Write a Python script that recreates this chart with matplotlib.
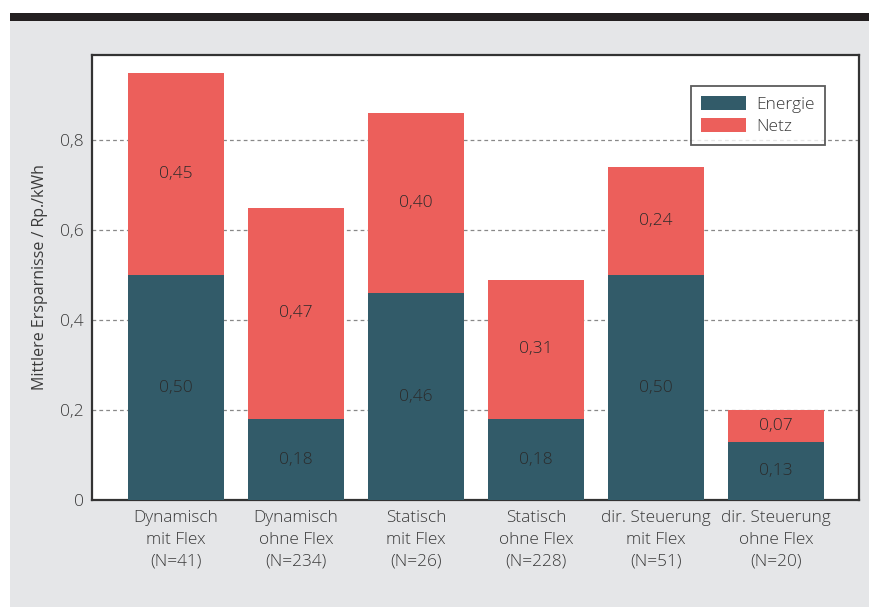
import matplotlib
matplotlib.use("Agg")
import matplotlib.pyplot as plt
from matplotlib.patches import Rectangle
import numpy as np

categories = [
    "Dynamisch\nmit Flex\n(N=41)",
    "Dynamisch\nohne Flex\n(N=234)",
    "Statisch\nmit Flex\n(N=26)",
    "Statisch\nohne Flex\n(N=228)",
    "dir. Steuerung\nmit Flex\n(N=51)",
    "dir. Steuerung\nohne Flex\n(N=20)",
]
energie = [0.50, 0.18, 0.46, 0.18, 0.50, 0.13]
netz = [0.45, 0.47, 0.40, 0.31, 0.24, 0.07]
yticks = [0, 0.2, 0.4, 0.6, 0.8]
ytick_labels = ["0", "0,2", "0,4", "0,6", "0,8"]

TEAL = "#325b69"
CORAL = "#ec5f5b"
TEXT = "#3a3a3a"
BG = "#e5e6e8"

plt.rcParams["font.family"] = ["Open Sans", "DejaVu Sans"]
plt.rcParams["font.weight"] = "light"

W, H = 869, 607
fig = plt.figure(figsize=(W / 100, H / 100), dpi=100)
fig.patch.set_facecolor("white")

# grey panel and black header strip
fig.patches.append(Rectangle((10 / W, 0), 1 - 10 / W, (H - 21) / H,
                             transform=fig.transFigure, facecolor=BG,
                             edgecolor="none", zorder=-10))
fig.patches.append(Rectangle((10 / W, (H - 21) / H), 1 - 10 / W, 8 / H,
                             transform=fig.transFigure, facecolor="#231f20",
                             edgecolor="none", zorder=-10))

ax = fig.add_axes([92 / W, (H - 500) / H, (858.5 - 92) / W, (500 - 55) / H])
ax.set_facecolor("white")

x = np.arange(len(categories))
b1 = ax.bar(x, energie, width=0.8, color=TEAL, label="Energie", zorder=3)
b2 = ax.bar(x, netz, width=0.8, bottom=energie, color=CORAL, label="Netz", zorder=3)

for xi, e, n in zip(x, energie, netz):
    ax.text(xi, e / 2, f"{e:.2f}".replace(".", ","), ha="center", va="center",
            fontsize=12.5, color="#2b2b2b", zorder=4)
    ax.text(xi, e + n / 2, f"{n:.2f}".replace(".", ","), ha="center", va="center",
            fontsize=12.5, color="#2b2b2b", zorder=4)

ax.set_xlim(-0.7, 5.685)
ax.set_ylim(0, 0.989)
ax.set_yticks(yticks)
ax.set_yticklabels(ytick_labels)
ax.set_xticks(x)
ax.set_xticklabels(categories, linespacing=1.5)
ax.tick_params(axis="y", length=0, labelsize=12.5, colors=TEXT, pad=6)
ax.tick_params(axis="x", length=0, labelsize=12.4, colors=TEXT, pad=7)
ax.yaxis.grid(True, linestyle=(0, (3, 2.5)), color="#888888", linewidth=0.9, zorder=1)
ax.set_axisbelow(True)

for s in ax.spines.values():
    s.set_color("#333333")
    s.set_linewidth(1.6)

ax.set_ylabel("Mittlere Ersparnisse / Rp./kWh", fontsize=11.5, color=TEXT, labelpad=9)

leg = ax.legend(loc="upper right", bbox_to_anchor=(1 - 33 / 766.5, 1 - 31 / 445),
                fontsize=12.5, frameon=True, fancybox=False, handlelength=2.6,
                handleheight=0.85, borderpad=0.6, labelspacing=0.25,
                handletextpad=0.6, borderaxespad=0)
leg.get_frame().set_edgecolor("#333333")
leg.get_frame().set_linewidth(1.3)
for t in leg.get_texts():
    t.set_color(TEXT)

fig.savefig("out.png", dpi=100)
